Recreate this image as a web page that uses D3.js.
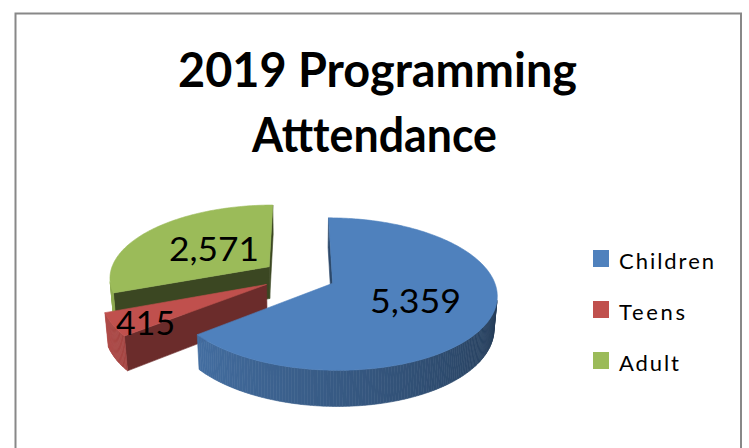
<!DOCTYPE html>
<html>
<head>
<meta charset="utf-8">
<script src="https://cdn.jsdelivr.net/npm/d3@7"></script>
<style>
  html, body { margin: 0; padding: 0; background: #ffffff; }
  svg { display: block; }
</style>
</head>
<body>
<script>
// ---------- data ----------
const titleLines = ["2019 Programming", "Atttendance"];
const categories = ["Children", "Teens", "Adult"];
const values = [5359, 415, 2571];
const valueLabels = ["5,359", "415", "2,571"];
const colors = ["#4F81BD", "#C0504D", "#9BBB59"];

// ---------- layout / style ----------
const W = 749, H = 448;
const phi = 27 * Math.PI / 180;   // elevation
const D = 6.41;                    // perspective distance (in radii)
const K = 160;                     // pixels per radius
const CX = 299, CY = 276;          // screen position of pie centre (top face)
const TH = 0.23;                   // thickness (in radii)
const EXPLODE = 0.23;              // explosion (in radii)
const cutShade = [1.6, 1.65, 2.7]; // darkness of cut faces (d3 darker k)
const labelR = [0.54, 0.80, 0.45];
const labelY = [0, -0.045, 0];

const svg = d3.select("body").append("svg").attr("width", W).attr("height", H);

svg.append("rect")
  .attr("x", 15.5).attr("y", 13.5)
  .attr("width", 725.5).attr("height", 500)
  .attr("fill", "#ffffff")
  .attr("stroke", "#888888").attr("stroke-width", 2);

// title
const title = svg.append("g");
const titleX = [377.5, 374.5], titleBase = [87, 152], titleLen = [399, 245];
titleLines.forEach((t, i) => {
  title.append("text")
    .attr("x", titleX[i]).attr("y", titleBase[i])
    .attr("text-anchor", "middle")
    .attr("font-family", "Lato, 'Open Sans', sans-serif")
    .attr("font-weight", "bold")
    .attr("font-size", 47)
    .attr("textLength", titleLen[i])
    .attr("lengthAdjust", "spacingAndGlyphs")
    .attr("fill", "#000")
    .text(t);
});

// ---------- 3D projection ----------
const sinP = Math.sin(phi), cosP = Math.cos(phi);
const cam = [0, D * sinP, -D * cosP];
function proj(p) {
  const [x, y, z] = p;
  const up = y * cosP + z * sinP;
  const depth = z * cosP - y * sinP;
  const f = D / (D + depth);
  return [CX + K * x * f, CY - K * up * f];
}
function depthOf(p) { return p[2] * cosP - p[1] * sinP; }
function visible(n, p) {
  return n[0] * (cam[0] - p[0]) + n[1] * (cam[1] - p[1]) + n[2] * (cam[2] - p[2]) > 0;
}
function scaleColor(c, f) {
  const r = d3.rgb(c);
  return d3.rgb(r.r * f, r.g * f, r.b * f).formatHex();
}

const shadeScale = d3.scaleLinear().domain([90, 270]).range([0.42, 0.97]).clamp(true);
const line = d3.line().curve(d3.curveLinearClosed);

const arcs = d3.pie().sort(null).value(d => d)(values);
const STEP = Math.PI / 180;

const sideFaces = [];
const topFaces = [];

arcs.forEach((a, i) => {
  const a0 = a.startAngle, a1 = a.endAngle;
  const mid = (a0 + a1) / 2;
  const ox = EXPLODE * Math.sin(mid), oz = EXPLODE * Math.cos(mid);
  const pt = (t, y) => [ox + Math.sin(t), y, oz + Math.cos(t)];
  const n = Math.max(2, Math.ceil((a1 - a0) / STEP));
  const ts = d3.range(n + 1).map(j => a0 + (a1 - a0) * j / n);

  // outer curved side
  for (let j = 0; j < n; j++) {
    const t0 = ts[j], t1 = ts[j + 1], tm = (t0 + t1) / 2;
    const pm = pt(tm, -TH / 2);
    const nrm = [Math.sin(tm), 0, Math.cos(tm)];
    if (!visible(nrm, pm)) continue;
    let deg = tm * 180 / Math.PI % 360;
    const col = scaleColor(colors[i], shadeScale(deg));
    sideFaces.push({
      pts: [pt(t0, 0), pt(t1, 0), pt(t1, -TH), pt(t0, -TH)],
      depth: depthOf(pm), fill: col
    });
  }
  // cut faces
  const c0 = [ox, 0, oz], c1 = [ox, -TH, oz];
  const cutDefs = [
    { t: a0, nrm: [-Math.cos(a0), 0, Math.sin(a0)] },
    { t: a1, nrm: [Math.cos(a1), 0, -Math.sin(a1)] }
  ];
  cutDefs.forEach(cd => {
    const po = pt(cd.t, 0), pb = pt(cd.t, -TH);
    const cen = [(ox + po[0]) / 2, -TH / 2, (oz + po[2]) / 2];
    if (!visible(cd.nrm, cen)) return;
    sideFaces.push({
      pts: [c0, po, pb, c1],
      depth: depthOf(cen),
      fill: d3.rgb(colors[i]).darker(cutShade[i]).formatHex()
    });
  });
  // top face
  const topPts = [c0].concat(ts.map(t => pt(t, 0)));
  const cenTop = [ox + 0.5 * Math.sin(mid), 0, oz + 0.5 * Math.cos(mid)];
  topFaces.push({ pts: topPts, depth: depthOf(cenTop), fill: colors[i], i, ox, oz, mid });
});

const pieG = svg.append("g");
sideFaces.sort((a, b) => b.depth - a.depth).forEach(f => {
  pieG.append("path")
    .attr("d", line(f.pts.map(proj)))
    .attr("fill", f.fill)
    .attr("stroke", f.fill).attr("stroke-width", 0.6)
    .attr("stroke-linejoin", "round");
});
topFaces.sort((a, b) => b.depth - a.depth).forEach(f => {
  pieG.append("path")
    .attr("d", line(f.pts.map(proj)))
    .attr("fill", f.fill)
    .attr("stroke", f.fill).attr("stroke-width", 0.6)
    .attr("stroke-linejoin", "round");
});

// data labels
const labelLen = [91, 59, 90];
topFaces.forEach(f => {
  const i = f.i;
  const p = proj([f.ox + labelR[i] * Math.sin(f.mid), labelY[i], f.oz + labelR[i] * Math.cos(f.mid)]);
  svg.append("text")
    .attr("x", p[0]).attr("y", p[1] + 12)
    .attr("text-anchor", "middle")
    .attr("font-family", "Lato, 'Open Sans', sans-serif")
    .attr("font-size", 33.5)
    .attr("textLength", labelLen[i])
    .attr("lengthAdjust", "spacingAndGlyphs")
    .attr("fill", "#000")
    .text(valueLabels[i]);
});

// legend
const legend = svg.append("g");
const legLen = [95, 66, 60];
categories.forEach((c, i) => {
  const y = 250 + i * 51;
  legend.append("rect")
    .attr("x", 593).attr("y", y).attr("width", 16).attr("height", 17)
    .attr("fill", colors[i]);
  legend.append("text")
    .attr("x", 619).attr("y", y + 19)
    .attr("font-family", "Lato, 'Open Sans', sans-serif")
    .attr("font-size", 22)
    .attr("textLength", legLen[i])
    .attr("lengthAdjust", "spacing")
    .attr("fill", "#000")
    .text(c);
});
</script>
</body>
</html>
